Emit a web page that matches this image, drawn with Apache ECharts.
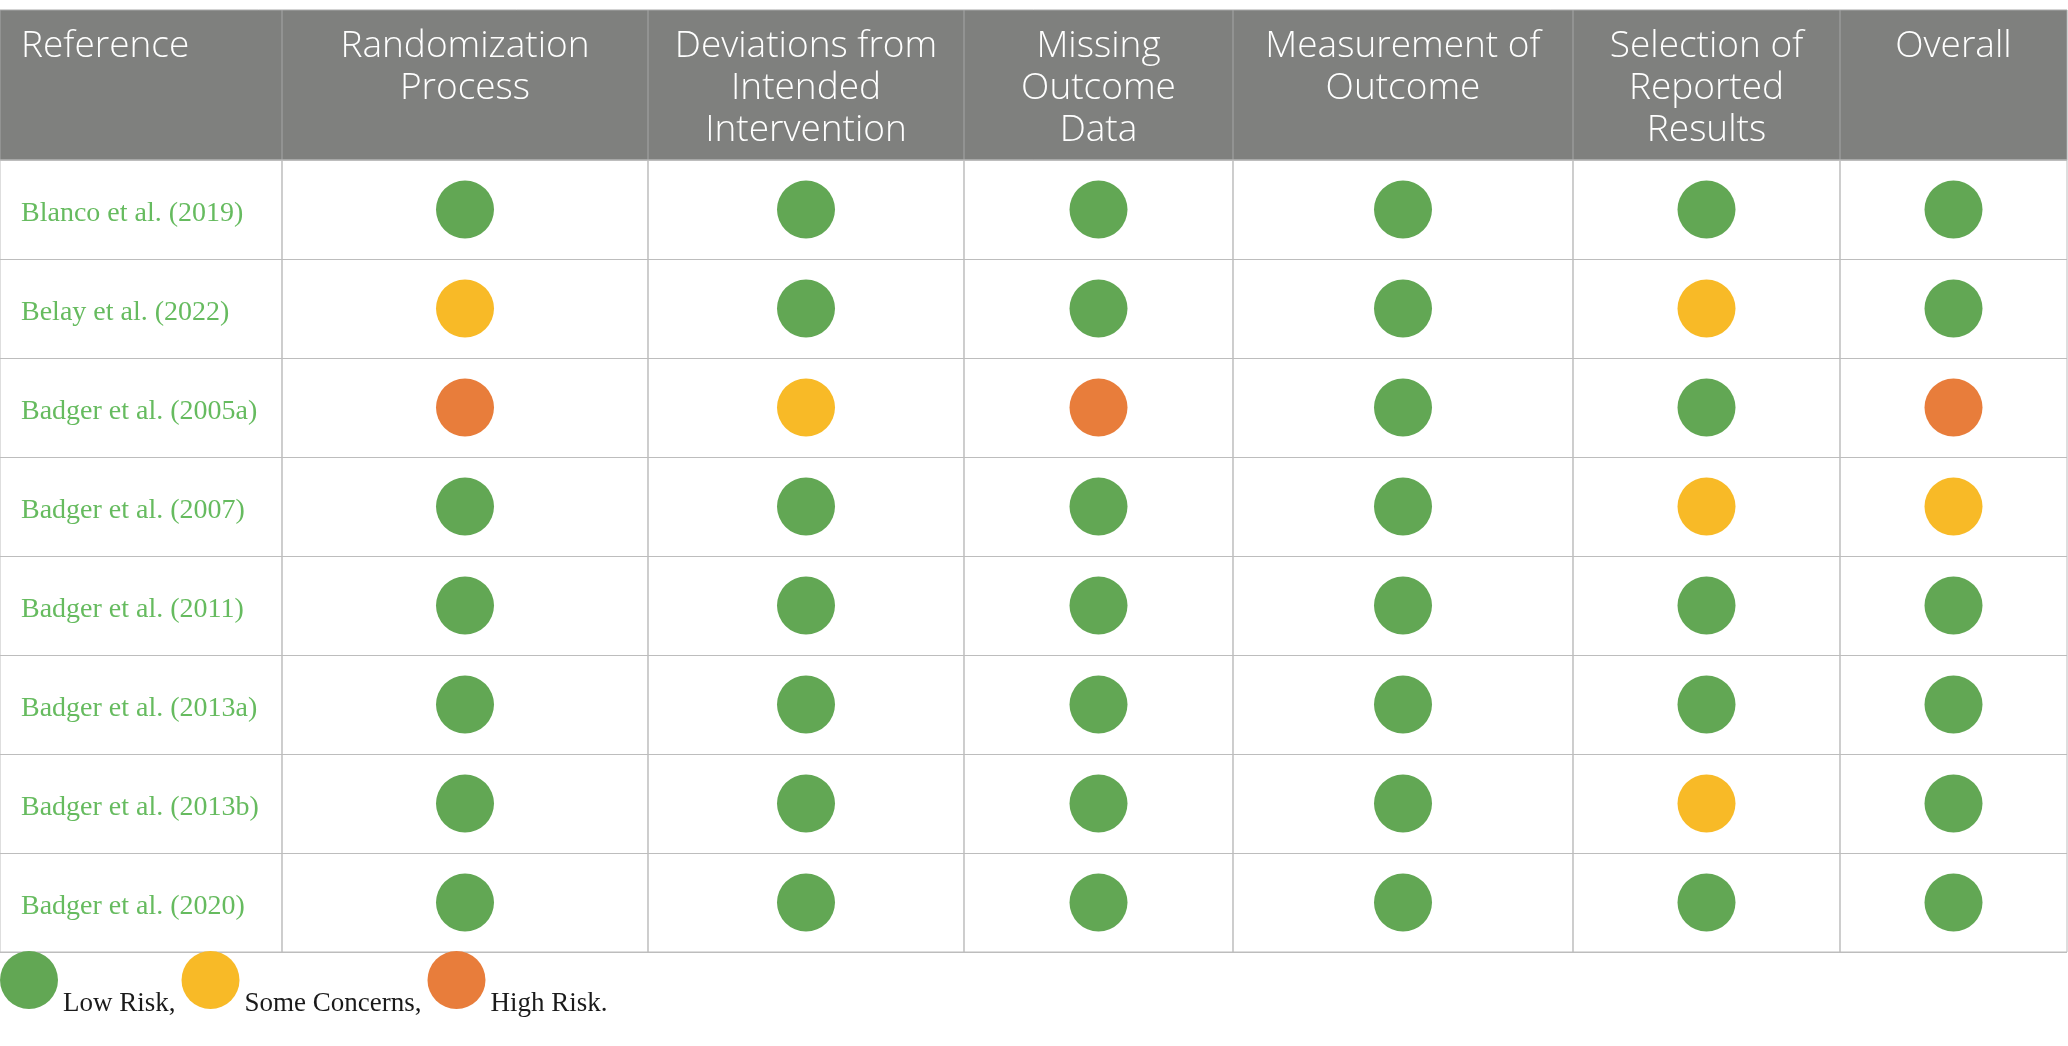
<!DOCTYPE html>
<html>
<head>
<meta charset="utf-8">
<script src="https://cdn.jsdelivr.net/npm/echarts@6/dist/echarts.min.js"></script>
<style>
  html, body { margin: 0; padding: 0; background: #fff; }
  #main { width: 2068px; height: 1046px; }
</style>
</head>
<body>
<div id="main"></div>
<script>
// column headers (first one is the study column)
var headers = [
    'Reference',
    'Randomization\nProcess',
    'Deviations from\nIntended\nIntervention',
    'Missing\nOutcome\nData',
    'Measurement of\nOutcome',
    'Selection of\nReported\nResults',
    'Overall'
];
var studies = [
    'Blanco et al. (2019)',
    'Belay et al. (2022)',
    'Badger et al. (2005a)',
    'Badger et al. (2007)',
    'Badger et al. (2011)',
    'Badger et al. (2013a)',
    'Badger et al. (2013b)',
    'Badger et al. (2020)'
];
// risk judgement per domain, one entry per study (L = low, S = some concerns, H = high)
var randomization = ['L', 'S', 'H', 'L', 'L', 'L', 'L', 'L'];
var deviations    = ['L', 'L', 'S', 'L', 'L', 'L', 'L', 'L'];
var missingData   = ['L', 'L', 'H', 'L', 'L', 'L', 'L', 'L'];
var measurement   = ['L', 'L', 'L', 'L', 'L', 'L', 'L', 'L'];
var selection     = ['L', 'S', 'L', 'S', 'L', 'L', 'S', 'L'];
var overall       = ['L', 'L', 'H', 'S', 'L', 'L', 'L', 'L'];
var levels = ['L', 'S', 'H'];
var levelNames = ['Low Risk,', 'Some Concerns,', 'High Risk.'];

var domains = [randomization, deviations, missingData, measurement, selection, overall];
var levelColors = { L: '#62a754', S: '#f8ba27', H: '#e87d3b' };

// layout of the table
var colEdges = [0, 282, 648, 964, 1233, 1573, 1840, 2067];
var tableTop = 10, headTop = 160, tableBottom = 952;
var lineColor = '#bdbdbd';
var headFont = { color: '#ffffff', fontFamily: 'Open Sans', fontWeight: 300, fontSize: 37, lineHeight: 42 };
var rowFont = { color: '#66bb5f', fontFamily: 'Liberation Serif', fontSize: 28 };

var chart = echarts.init(document.getElementById('main'));

var grids = [], xAxes = [], yAxes = [], series = [];
for (var i = 0; i < headers.length; i++) {
    grids.push({
        left: colEdges[i],
        top: headTop,
        width: colEdges[i + 1] - colEdges[i],
        height: tableBottom - headTop,
        show: true,
        borderColor: lineColor,
        borderWidth: 1
    });
    xAxes.push({
        type: 'category',
        gridIndex: i,
        position: 'top',
        data: [headers[i]],
        axisLine: { show: false },
        axisTick: { show: false },
        splitLine: { show: false },
        axisLabel: Object.assign({
            interval: 0,
            verticalAlign: 'top',
            margin: 135,
            formatter: i === 0 ? function (v) { return '{l|' + v + '}'; } : null,
            rich: {
                l: Object.assign({ width: 240, align: 'left' }, headFont)
            }
        }, headFont)
    });
    yAxes.push({
        type: 'category',
        gridIndex: i,
        inverse: true,
        data: studies,
        axisLine: { show: false },
        axisTick: { show: false },
        splitLine: { show: true, interval: 0, lineStyle: { color: lineColor, width: 1 } },
        axisLabel: Object.assign({
            show: i === 0,
            inside: true,
            interval: 0,
            margin: 21,
            formatter: function (v) { return '{r|' + v + '}'; },
            rich: {
                r: Object.assign({ padding: [9, 0, 0, 0] }, rowFont)
            }
        }, rowFont)
    });
}

domains.forEach(function (col, c) {
    levels.forEach(function (lv, k) {
        var pts = [];
        col.forEach(function (r, j) {
            if (r === lv) pts.push([headers[c + 1], studies[j]]);
        });
        series.push({
            type: 'scatter',
            name: levelNames[k],
            xAxisIndex: c + 1,
            yAxisIndex: c + 1,
            symbol: 'circle',
            symbolSize: 58,
            itemStyle: { color: levelColors[lv], opacity: 1 },
            emphasis: { disabled: true },
            data: pts
        });
    });
});

// header band and its dividers
var graphics = [{
    type: 'rect',
    z: -1,
    shape: { x: colEdges[0], y: tableTop, width: colEdges[colEdges.length - 1] - colEdges[0], height: headTop - tableTop },
    style: { fill: '#7f807e', stroke: '#a6a6a6', lineWidth: 1 }
}];
colEdges.slice(1, -1).forEach(function (x) {
    graphics.push({
        type: 'line',
        z: -1,
        shape: { x1: x, y1: tableTop, x2: x, y2: headTop },
        style: { stroke: '#a6a6a6', lineWidth: 1 }
    });
});

chart.setOption({
    backgroundColor: '#ffffff',
    animation: false,
    grid: grids,
    xAxis: xAxes,
    yAxis: yAxes,
    series: series,
    graphic: graphics,
    legend: {
        data: levelNames,
        left: 0,
        top: 951,
        padding: 0,
        orient: 'horizontal',
        icon: 'circle',
        itemWidth: 58,
        itemHeight: 58,
        itemGap: 6,
        selectedMode: false,
        formatter: function (name) { return '{t|' + name + '}'; },
        textStyle: {
            color: '#1a1a1a',
            fontFamily: 'Liberation Serif',
            fontSize: 27,
            rich: {
                t: { color: '#1a1a1a', fontFamily: 'Liberation Serif', fontSize: 27, padding: [48, 0, 0, 0] }
            }
        }
    }
});
</script>
</body>
</html>
